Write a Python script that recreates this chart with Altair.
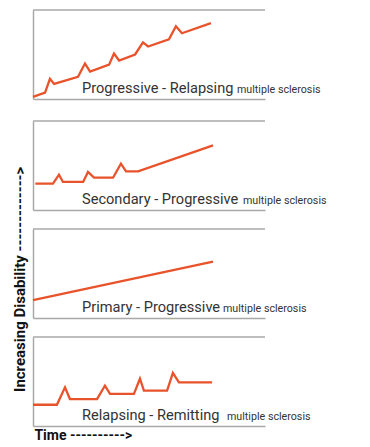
import altair as alt
import pandas as pd

# ---- data ----
titles = ["Progressive - Relapsing", "Secondary - Progressive",
          "Primary - Progressive", "Relapsing - Remitting"]
subtitle = "multiple sclerosis"
x_label = "Time ---------->"
y_label = "Increasing Disability ------------->"

pr_time = [0, 5.2, 7.3, 9.1, 19.4, 22.4, 24.6, 32.8, 34.9, 37.1, 44, 47.4, 49.6, 58.6, 61.6, 64.2, 76.7]
pr_dis = [2.3, 7.2, 22.7, 17, 25, 39.8, 30.7, 38.6, 51, 43.2, 50, 63.6, 59, 67, 81.8, 73.9, 85.2]

sp_time = [1, 8.6, 11.2, 12.9, 21.6, 23.7, 26.3, 34.5, 37.9, 40.1, 45.3, 77.6]
sp_dis = [29.6, 29.6, 39.7, 31.5, 31.5, 42.7, 36.3, 36.3, 52, 43.5, 43.5, 72.7]

pp_time = [0, 77.6]
pp_dis = [20.2, 63.3]

rr_time = [0, 10.3, 13.8, 15.9, 27.6, 31, 33.2, 43.5, 46.1, 47.8, 57.8, 60.3, 62.9, 77.2]
rr_dis = [23.9, 23.9, 43.5, 30.3, 30.3, 45.3, 36, 36, 53.1, 39.7, 39.7, 59.6, 49.1, 49.1]

series = [(pr_time, pr_dis), (sp_time, sp_dis), (pp_time, pp_dis), (rr_time, rr_dis)]
sub_x = [204, 210, 190, 194]

# ---- style ----
W, H = 232, 89
LINE = "#E8532B"
FRAME = "#A8A8A8"
TEXT = "#333333"
FONT = "Roboto"


def panel(t, d, title, sx):
    df = pd.DataFrame({"time": t, "disability": d})
    ax = dict(title=None, labels=False, ticks=False, grid=False,
              domainColor=FRAME, domainWidth=1.5)
    line = alt.Chart(df).mark_line(color=LINE, strokeWidth=2.3).encode(
        x=alt.X("time:Q", scale=alt.Scale(domain=[0, 100], nice=False, zero=False),
                axis=alt.Axis(**ax)),
        y=alt.Y("disability:Q", scale=alt.Scale(domain=[0, 100], nice=False),
                axis=alt.Axis(**ax)),
    )
    one = pd.DataFrame({"label": [title], "sub": [subtitle]})
    top = alt.Chart(one).mark_rule(color=FRAME, strokeWidth=1.5).encode(
        x=alt.value(0), x2=alt.value(W), y=alt.value(0))
    main = alt.Chart(one).mark_text(align="left", baseline="alphabetic", font=FONT,
                                    fontSize=14.6, color=TEXT).encode(
        x=alt.value(49), y=alt.value(83), text="label:N")
    small = alt.Chart(one).mark_text(align="left", baseline="alphabetic", font=FONT,
                                     fontSize=10.7, color=TEXT).encode(
        x=alt.value(sx), y=alt.value(83), text="sub:N")
    return alt.layer(line, top, main, small).properties(width=W, height=H)


panels = [panel(t, d, ttl, sx) for (t, d), ttl, sx in zip(series, titles, sub_x)]
panels[-1] = panels[-1].properties(
    title=alt.TitleParams(x_label, orient="bottom", anchor="start", font=FONT,
                          fontSize=14, fontWeight="bold", color="#111111",
                          offset=3, dx=6))

chart = alt.vconcat(*panels, spacing=18).properties(
    title=alt.TitleParams(y_label, orient="left", anchor="start", font=FONT,
                          fontSize=15, fontWeight="bold", color="#111111",
                          offset=0, dx=51),
    padding={"top": 1, "left": 5, "right": 5, "bottom": 2},
).configure_view(stroke=None)

chart.save("out.html", embed_options={"renderer": "svg", "actions": False})
